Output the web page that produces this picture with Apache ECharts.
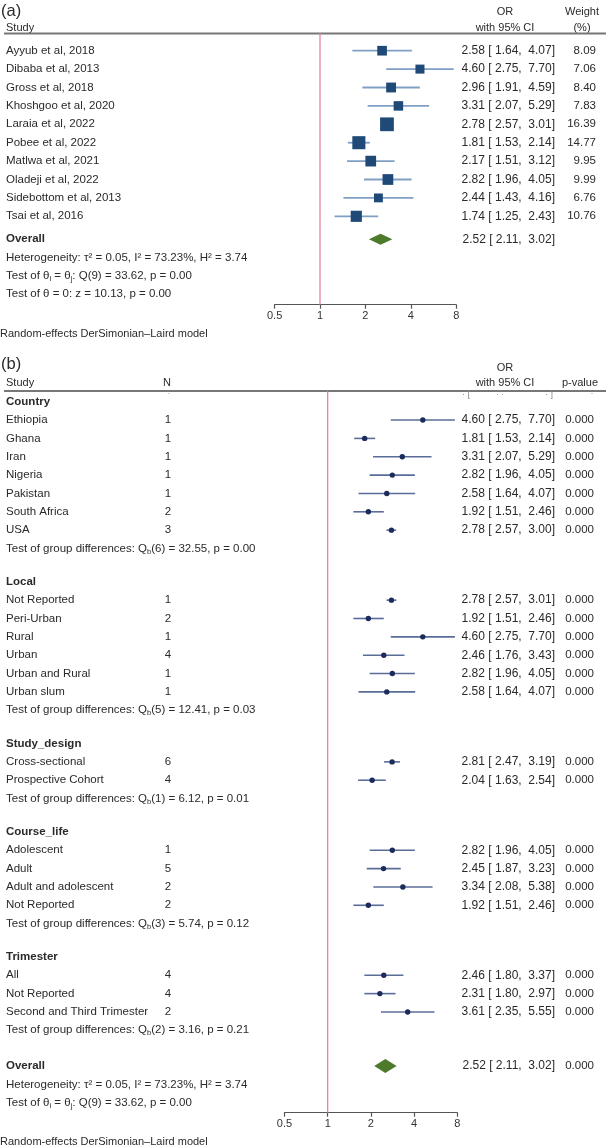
<!DOCTYPE html>
<html><head><meta charset="utf-8">
<script src="https://cdn.jsdelivr.net/npm/echarts@6/dist/echarts.min.js"></script>
<style>html,body{margin:0;padding:0;background:#fff}#c{width:606px;height:1145px}</style>
</head><body><div id="c"></div>
<script>
// ---------------- Panel (a) data ----------------
const studiesA = ['Ayyub et al, 2018','Dibaba et al, 2013','Gross et al, 2018','Khoshgoo et al, 2020','Laraia et al, 2022','Pobee et al, 2022','Matlwa et al, 2021','Oladeji et al, 2022','Sidebottom et al, 2013','Tsai et al, 2016'];
const orA     = [2.58, 4.60, 2.96, 3.31, 2.78, 1.81, 2.17, 2.82, 2.44, 1.74];
const lowA    = [1.64, 2.75, 1.91, 2.07, 2.57, 1.53, 1.51, 1.96, 1.43, 1.25];
const highA   = [4.07, 7.70, 4.59, 5.29, 3.01, 2.14, 3.12, 4.05, 4.16, 2.43];
const weightA = [8.09, 7.06, 8.40, 7.83, 16.39, 14.77, 9.95, 9.99, 6.76, 10.76];
const overallA = [2.52, 2.11, 3.02];

// ---------------- Panel (b) data ----------------
const groupsB = ['Country','Local','Study_design','Course_life','Trimester'];
const subsB = [
  ['Ethiopia','Ghana','Iran','Nigeria','Pakistan','South Africa','USA'],
  ['Not Reported','Peri-Urban','Rural','Urban','Urban and Rural','Urban slum'],
  ['Cross-sectional','Prospective Cohort'],
  ['Adolescent','Adult','Adult and adolescent','Not Reported'],
  ['All','Not Reported','Second and Third Trimester']
];
const nB = [[1,1,1,1,1,2,3],[1,2,1,4,1,1],[6,4],[1,5,2,2],[4,4,2]];
const orB = [[4.60,1.81,3.31,2.82,2.58,1.92,2.78],[2.78,1.92,4.60,2.46,2.82,2.58],[2.81,2.04],[2.82,2.45,3.34,1.92],[2.46,2.31,3.61]];
const lowB = [[2.75,1.53,2.07,1.96,1.64,1.51,2.57],[2.57,1.51,2.75,1.76,1.96,1.64],[2.47,1.63],[1.96,1.87,2.08,1.51],[1.80,1.80,2.35]];
const highB = [[7.70,2.14,5.29,4.05,4.07,2.46,3.00],[3.01,2.46,7.70,3.43,4.05,4.07],[3.19,2.54],[4.05,3.23,5.38,2.46],[3.37,2.97,5.55]];
const pB = [['0.000','0.000','0.000','0.000','0.000','0.000','0.000'],['0.000','0.000','0.000','0.000','0.000','0.000'],['0.000','0.000'],['0.000','0.000','0.000','0.000'],['0.000','0.000','0.000']];
const groupTestDf = ['6','5','1','3','2'];
const groupTestQ  = ['32.55','12.41','6.12','5.74','3.16'];
const groupTestP  = ['0.00','0.03','0.01','0.12','0.21'];
const overallB = [2.52, 2.11, 3.02];
const overallPB = '0.000';

// ---------------- shared text ----------------
const hetText = 'Heterogeneity: τ² = 0.05, I² = 73.23%, H² = 3.74';
const qTest = ['9', '33.62', '0.00'];
const zTest = 'Test of θ = 0: z = 10.13, p = 0.00';
const modelText = 'Random-effects DerSimonian–Laird model';
const axisTicks = [0.5, 1, 2, 4, 8];

// ---------------- styling ----------------
const FONT = "'Liberation Sans', Arial, Helvetica, sans-serif";
const TXT = '#2a2a2a';
const FS = 11.5;
const VFS = 12;
const NFS = 11.5;
const RICH = {
  t: {fontSize: FS, fontFamily: FONT, fill: TXT, color: TXT, lineHeight: 14},
  s: {fontSize: 7.5, fontFamily: FONT, fill: TXT, color: TXT, lineHeight: 8, verticalAlign: 'bottom'}
};
const fmt = v => v.toFixed(2);
const ciText = (o, l, h) => fmt(o) + ' [ ' + fmt(l) + ',  ' + fmt(h) + ']';
const qRich = '{t|Test of θ}{s|i}{t| = θ}{s|j}{t|: Q(' + qTest[0] + ') = ' + qTest[1] + ', p = ' + qTest[2] + '}';

function textEl(x, y, text, o) {
  o = o || {};
  const size = o.size || FS;
  const st = {
    text: text, fill: o.color || TXT,
    font: (o.bold ? 'bold ' : '') + size + 'px ' + FONT,
    fontSize: size, fontFamily: FONT, fontWeight: o.bold ? 'bold' : 'normal',
    align: o.align || 'left', textAlign: o.align || 'left',
    verticalAlign: 'middle', textVerticalAlign: 'middle'
  };
  if (o.rich) st.rich = o.rich;
  return {type: 'text', x: x, y: y, silent: true, style: st};
}

// ---------------- rows (a) ----------------
const rowsA = [];
studiesA.forEach((s, i) => rowsA.push({kind: 'study', y: i, label: s, or: orA[i], lo: lowA[i], hi: highA[i], w: weightA[i]}));
rowsA.push({kind: 'overall', y: 10.25, label: 'Overall', or: overallA[0], lo: overallA[1], hi: overallA[2]});
rowsA.push({kind: 'text', y: 11.27, label: hetText});
rowsA.push({kind: 'rich', y: 12.24, label: qRich});
rowsA.push({kind: 'text', y: 13.24, label: zTest});
const yMinA = -0.962, yMaxA = 13.804;

// ---------------- rows (b) ----------------
const GAP = 0.815;
const rowsB = [];
let yy = 0;
groupsB.forEach((g, gi) => {
  rowsB.push({kind: 'header', y: yy, label: g}); yy += 1;
  subsB[gi].forEach((s, k) => {
    rowsB.push({kind: 'sub', y: yy, label: s, n: nB[gi][k], or: orB[gi][k], lo: lowB[gi][k], hi: highB[gi][k], p: pB[gi][k]});
    yy += 1;
  });
  rowsB.push({kind: 'rich', y: yy, label: '{t|Test of group differences: Q}{s|b}{t|(' + groupTestDf[gi] + ') = ' + groupTestQ[gi] + ', p = ' + groupTestP[gi] + '}'});
  yy += 1 + GAP;
});
yy += 0.135;
rowsB.push({kind: 'overall', y: yy, label: 'Overall', or: overallB[0], lo: overallB[1], hi: overallB[2], p: overallPB}); yy += 1;
rowsB.push({kind: 'text', y: yy, label: hetText}); yy += 1;
rowsB.push({kind: 'rich', y: yy, label: qRich});
const yMinB = -0.6, yMaxB = 38.75;

// ---------------- render functions ----------------
function makeRender(rows, panel) {
  const yMin = panel === 'a' ? yMinA : yMinB;
  const yMax = panel === 'a' ? yMaxA : yMaxB;
  return function (params, api) {
    const r = rows[api.value(2)];
    const py = api.coord([1, r.y])[1];
    const ch = [];
    if (api.value(2) === 0) {
      const t = api.coord([1, yMin]), b = api.coord([1, yMax]);
      ch.push({type: 'line', silent: true, shape: {x1: t[0], y1: t[1], x2: b[0], y2: b[1]}, style: {stroke: '#e67a92', lineWidth: 1.2}});
    }
    if (r.kind === 'rich') {
      ch.push(textEl(6, py, r.label, {rich: RICH}));
    } else {
      ch.push(textEl(6, py, r.label, {bold: r.kind === 'header' || r.kind === 'overall'}));
    }
    if (r.n !== undefined) ch.push(textEl(168, py, String(r.n), {align: 'center'}));
    if (r.or !== undefined) {
      const pc = api.coord([r.or, r.y]);
      const pl = api.coord([r.lo, r.y]);
      const ph = api.coord([r.hi, r.y]);
      if (r.kind === 'overall') {
        const h = panel === 'a' ? 5.5 : 7;
        ch.push({type: 'polygon', silent: true, shape: {points: [[pl[0], py], [pc[0], py - h], [ph[0], py], [pc[0], py + h]]}, style: {fill: '#4e7a2b'}});
      } else if (panel === 'a') {
        ch.push({type: 'line', silent: true, shape: {x1: pl[0], y1: py, x2: ph[0], y2: py}, style: {stroke: '#7f9fc5', lineWidth: 1.8}});
        const s = 3.4 * Math.sqrt(r.w);
        ch.push({type: 'rect', silent: true, shape: {x: pc[0] - s / 2, y: py - s / 2, width: s, height: s}, style: {fill: '#1f4a77'}});
      } else {
        ch.push({type: 'line', silent: true, shape: {x1: pl[0], y1: py, x2: ph[0], y2: py}, style: {stroke: '#5a6d99', lineWidth: 1.6}});
        ch.push({type: 'circle', silent: true, shape: {cx: pc[0], cy: py, r: 2.7}, style: {fill: '#1a2b5c'}});
      }
      ch.push(textEl(555, py, ciText(r.or, r.lo, r.hi), {align: 'right', size: VFS}));
      if (panel === 'a' && r.w !== undefined) ch.push(textEl(596, py, fmt(r.w), {align: 'right', size: NFS}));
      if (panel === 'b' && r.p !== undefined) ch.push(textEl(594, py, r.p, {align: 'right', size: NFS}));
    }
    return {type: 'group', children: ch};
  };
}

const xAxisCommon = {
  type: 'log', logBase: 2, min: 0.5, max: 8, position: 'bottom',
  axisLine: {show: true, onZero: false, lineStyle: {color: '#555', width: 1.2}},
  axisTick: {show: true, length: 4, lineStyle: {color: '#555', width: 1.2}},
  splitLine: {show: false},
  axisLabel: {
    color: '#333', fontSize: 11, fontFamily: FONT, margin: 6,
    formatter: v => {
      const m = axisTicks.find(t => Math.abs(t - v) < 1e-6);
      return m === undefined ? '' : String(m);
    }
  }
};

const graphics = [
  textEl(1, 11, '(a)', {size: 16.5}),
  textEl(505, 12, 'OR', {align: 'center', size: 11}),
  textEl(505, 28, 'with 95% CI', {align: 'center', size: 11}),
  textEl(582, 12, 'Weight', {align: 'center', size: 11}),
  textEl(582, 28, '(%)', {align: 'center', size: 11}),
  textEl(6, 28, 'Study', {size: 11}),
  {type: 'line', silent: true, shape: {x1: 4, y1: 33.5, x2: 606, y2: 33.5}, style: {stroke: '#777', lineWidth: 2}},
  textEl(0, 334, modelText, {size: 11}),
  textEl(1, 364, '(b)', {size: 16.5}),
  textEl(505, 368, 'OR', {align: 'center', size: 11}),
  textEl(505, 383, 'with 95% CI', {align: 'center', size: 11}),
  textEl(580, 383, 'p-value', {align: 'center', size: 11}),
  textEl(6, 383, 'Study', {size: 11}),
  textEl(167, 383, 'N', {align: 'center', size: 11}),
  {type: 'line', silent: true, shape: {x1: 4, y1: 391, x2: 606, y2: 391}, style: {stroke: '#777', lineWidth: 2}},
  textEl(169, 394, '·', {align: 'center', size: 9, color: '#999'}),
  textEl(466, 395, '· [', {align: 'center', size: 9, color: '#888'}),
  textEl(500, 395, '· ·', {align: 'center', size: 8, color: '#999'}),
  textEl(549, 395, '· ]', {align: 'center', size: 9, color: '#888'}),
  textEl(592, 394, '·', {align: 'center', size: 9, color: '#999'}),
  textEl(0, 1142, modelText, {size: 11})
];

const chart = echarts.init(document.getElementById('c'), null, {renderer: 'canvas'});
chart.setOption({
  animation: false,
  backgroundColor: '#fff',
  grid: [
    {left: 274.6, width: 181.6, top: 33, height: 271.7},
    {left: 284.5, width: 172.8, top: 390.7, height: 722}
  ],
  xAxis: [
    Object.assign({gridIndex: 0}, xAxisCommon),
    Object.assign({gridIndex: 1}, xAxisCommon)
  ],
  yAxis: [
    {gridIndex: 0, type: 'value', inverse: true, min: yMinA, max: yMaxA, show: false},
    {gridIndex: 1, type: 'value', inverse: true, min: yMinB, max: yMaxB, show: false}
  ],
  graphic: graphics,
  series: [
    {type: 'custom', xAxisIndex: 0, yAxisIndex: 0, clip: false, silent: true,
     data: rowsA.map((r, i) => [r.or !== undefined ? r.or : 1, r.y, i]),
     renderItem: makeRender(rowsA, 'a')},
    {type: 'custom', xAxisIndex: 1, yAxisIndex: 1, clip: false, silent: true,
     data: rowsB.map((r, i) => [r.or !== undefined ? r.or : 1, r.y, i]),
     renderItem: makeRender(rowsB, 'b')}
  ]
});
</script></body></html>
